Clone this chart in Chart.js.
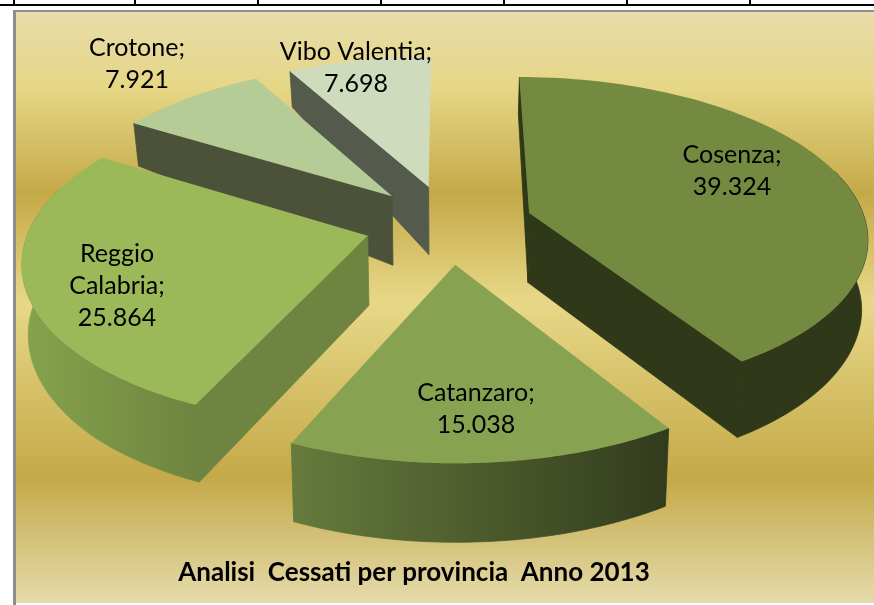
<!DOCTYPE html>
<html>
<head>
<meta charset="utf-8">
<style>html,body{margin:0;padding:0;background:#fff}#wrap{width:874px;height:605px;position:relative}canvas{display:block}</style>
<script src="https://cdn.jsdelivr.net/npm/chart.js@4/dist/chart.umd.js"></script>
</head>
<body>
<div id="wrap"><canvas id="c" width="874" height="605"></canvas></div>
<script>
const categories = ['Cosenza', 'Catanzaro', 'Reggio Calabria', 'Crotone', 'Vibo Valentia'];
const values = [39324, 15038, 25864, 7921, 7698];
const topColors = ['#758a41', '#87a351', '#9bb958', '#b6cc96', '#cfdbbd'];
const chartTitle = 'Analisi  Cessati per provincia  Anno 2013';

// styling of the extruded look
const wallColors = ['#2f3819', '#333c1e', '#6f8440', '#4c523a', '#545a4c'];
const rimFrom = ['#2f3819', '#667b3c', '#85a44c', '#4c523a', '#545a4c'];
const rimTo = ['#2f3819', '#323b1d', '#6f8440', '#4c523a', '#545a4c'];
const paintOrder = [4, 3, 0, 2, 1];
const showStartWall = [true, false, true, true, true];
const showEndWall = [true, false, false, false, false];
const showRim = [true, true, true, false, false];
const labelLines = [['Cosenza;'], ['Catanzaro;'], ['Reggio', 'Calabria;'], ['Crotone;'], ['Vibo Valentia;']];
const labelAnchors = [[732, 155], [476, 393], [117, 254], [137, 48], [356, 52]];

const EXPLODE = 0.25;
const VIEW = { cx: 449, cy: 224, A: 158, B: 337, k: 0.14, squeeze: 0.015 };
const DEPTH = [[72, 36], [125, 43], [190, 69], [265, 70], [363, 76], [461, 79]];

function project(u, v) {
  const w = 1 + VIEW.k * v;
  return { x: VIEW.cx + VIEW.B * u / w, y: VIEW.cy - VIEW.A * v / w };
}
function depthAt(y) {
  if (y <= DEPTH[0][0]) return DEPTH[0][1];
  for (let i = 1; i < DEPTH.length; i++) {
    if (y <= DEPTH[i][0]) {
      const t = (y - DEPTH[i - 1][0]) / (DEPTH[i][0] - DEPTH[i - 1][0]);
      return DEPTH[i - 1][1] + t * (DEPTH[i][1] - DEPTH[i - 1][1]);
    }
  }
  return DEPTH[DEPTH.length - 1][1];
}
function lower(p) {
  return { x: p.x - VIEW.squeeze * (p.x - VIEW.cx), y: p.y + depthAt(p.y) };
}
function fillPoly(ctx, pts, fill, seam) {
  ctx.beginPath();
  pts.forEach((p, i) => i ? ctx.lineTo(p.x, p.y) : ctx.moveTo(p.x, p.y));
  ctx.closePath();
  ctx.fillStyle = fill;
  ctx.fill();
  if (seam) { ctx.strokeStyle = fill; ctx.lineWidth = 0.8; ctx.stroke(); }
}
function fmt(n) {
  return String(n).replace(/\B(?=(\d{3})+$)/g, '.');
}

const framePlugin = {
  id: 'frame',
  beforeDraw(chart) {
    const ctx = chart.ctx;
    ctx.save();
    ctx.fillStyle = '#fff';
    ctx.fillRect(0, 0, 874, 605);
    const g = ctx.createLinearGradient(0, 12, 0, 603);
    g.addColorStop(0, '#e7dcab');
    g.addColorStop(0.13, '#e6d685');
    g.addColorStop(0.307, '#c4a948');
    g.addColorStop(0.49, '#e7d888');
    g.addColorStop(0.788, '#c4a948');
    g.addColorStop(1, '#e5dbab');
    ctx.fillStyle = g;
    ctx.fillRect(16, 12, 858, 591);
    ctx.fillStyle = '#8e8e8e';
    ctx.fillRect(13, 10, 861, 2);
    ctx.fillRect(13, 10, 3, 595);
    ctx.fillStyle = '#000';
    ctx.fillRect(0, 4, 874, 2);
    [13, 134, 257, 380, 503, 626, 749].forEach(x => ctx.fillRect(x, 0, 2, 5));
    ctx.restore();
  }
};

const pie3d = {
  id: 'pie3d',
  beforeDatasetsDraw(chart) {
    const ctx = chart.ctx;
    const arcs = chart.getDatasetMeta(0).data;
    ctx.save();
    paintOrder.forEach(i => {
      const el = arcs[i];
      const a0 = el.startAngle, a1 = el.endAngle, mid = (a0 + a1) / 2;
      const ox = Math.cos(mid) * EXPLODE, oy = -Math.sin(mid) * EXPLODE;
      const apex = project(ox, oy);
      const steps = 96;
      const rim = [], front = [];
      for (let s = 0; s <= steps; s++) {
        const a = a0 + (a1 - a0) * s / steps;
        const p = project(ox + Math.cos(a), oy - Math.sin(a));
        rim.push(p);
        if (-Math.sin(a) < 0.3) front.push(p);
      }
      const apexLow = lower(apex);
      const wall = end => [apex, end, lower(end), apexLow];
      if (showRim[i] && front.length) {
        const xs = front.map(p => p.x);
        const grad = ctx.createLinearGradient(Math.min(...xs), 0, Math.max(...xs), 0);
        grad.addColorStop(0, rimFrom[i]);
        grad.addColorStop(1, rimTo[i]);
        fillPoly(ctx, front.concat(front.map(lower).reverse()), grad, true);
      }
      if (showEndWall[i]) fillPoly(ctx, wall(rim[steps]), wallColors[i], true);
      if (showStartWall[i]) fillPoly(ctx, wall(rim[0]), wallColors[i], true);
      fillPoly(ctx, [apex].concat(rim), el.options.backgroundColor, false);
    });
    ctx.restore();
    return false;
  },
  afterDraw(chart) {
    const ctx = chart.ctx;
    ctx.save();
    ctx.fillStyle = '#000';
    ctx.textAlign = 'center';
    ctx.textBaseline = 'middle';
    ctx.font = '25px Lato, Carlito, sans-serif';
    categories.forEach((c, i) => {
      const lines = labelLines[i].concat([fmt(values[i])]);
      lines.forEach((t, j) => ctx.fillText(t, labelAnchors[i][0], labelAnchors[i][1] + j * 32));
    });
    ctx.restore();
  }
};

new Chart(document.getElementById('c'), {
  type: 'pie',
  data: {
    labels: categories,
    datasets: [{ data: values, backgroundColor: topColors, borderWidth: 0, offset: 50 }]
  },
  options: {
    responsive: false,
    animation: false,
    layout: { padding: { right: 46 } },
    plugins: {
      legend: { display: false },
      tooltip: { enabled: false },
      title: {
        display: true,
        position: 'bottom',
        text: chartTitle,
        color: '#000',
        font: { family: 'Lato, Carlito, sans-serif', size: 26, weight: 'bold', lineHeight: 1.2 },
        padding: { top: 0, bottom: 17 }
      }
    }
  },
  plugins: [framePlugin, pie3d]
});
</script>
</body>
</html>
